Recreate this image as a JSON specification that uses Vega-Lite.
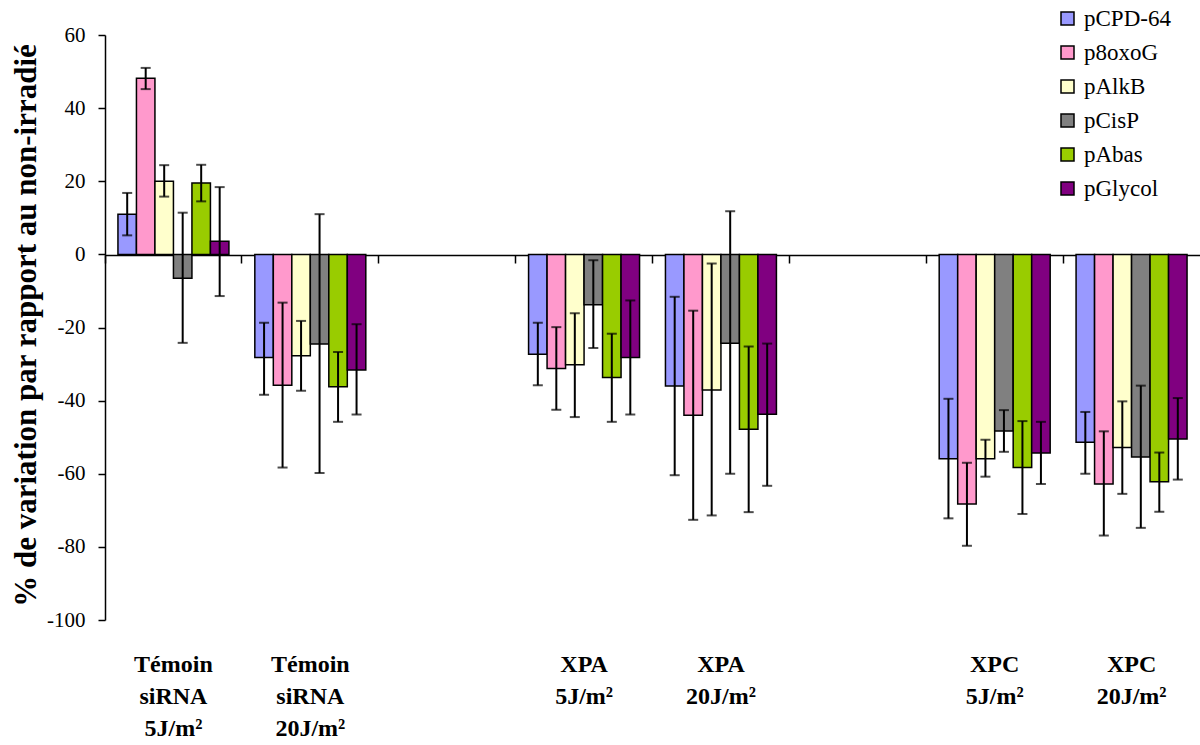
{
  "$schema": "https://vega.github.io/schema/vega-lite/v6.json",
  "width": 1095,
  "height": 585,
  "autosize": {"type": "none"},
  "padding": {"left": 105, "top": 35, "right": 0, "bottom": 125},
  "background": "white",
  "config": {"view": {"stroke": null}, "font": "Liberation Serif"},
  "data": {"values": [
    {"group": "Témoin|siRNA|5J/m²", "series": "pCPD-64", "value": 11.0, "lo": 5.2, "hi": 16.8},
    {"group": "Témoin|siRNA|5J/m²", "series": "p8oxoG", "value": 48.2, "lo": 45.2, "hi": 51.0},
    {"group": "Témoin|siRNA|5J/m²", "series": "pAlkB", "value": 20.0, "lo": 15.8, "hi": 24.4},
    {"group": "Témoin|siRNA|5J/m²", "series": "pCisP", "value": -6.5, "lo": -24.2, "hi": 11.4},
    {"group": "Témoin|siRNA|5J/m²", "series": "pAbas", "value": 19.5, "lo": 14.5, "hi": 24.5},
    {"group": "Témoin|siRNA|5J/m²", "series": "pGlycol", "value": 3.6, "lo": -11.4, "hi": 18.4},
    {"group": "Témoin|siRNA|20J/m²", "series": "pCPD-64", "value": -28.2, "lo": -38.4, "hi": -18.7},
    {"group": "Témoin|siRNA|20J/m²", "series": "p8oxoG", "value": -35.8, "lo": -58.3, "hi": -13.2},
    {"group": "Témoin|siRNA|20J/m²", "series": "pAlkB", "value": -27.7, "lo": -37.3, "hi": -18.2},
    {"group": "Témoin|siRNA|20J/m²", "series": "pCisP", "value": -24.5, "lo": -59.8, "hi": 11.0},
    {"group": "Témoin|siRNA|20J/m²", "series": "pAbas", "value": -36.2, "lo": -45.8, "hi": -26.7},
    {"group": "Témoin|siRNA|20J/m²", "series": "pGlycol", "value": -31.6, "lo": -43.8, "hi": -19.1},
    {"group": "XPA|5J/m²", "series": "pCPD-64", "value": -27.3, "lo": -35.8, "hi": -18.7},
    {"group": "XPA|5J/m²", "series": "p8oxoG", "value": -31.2, "lo": -42.5, "hi": -19.9},
    {"group": "XPA|5J/m²", "series": "pAlkB", "value": -30.2, "lo": -44.5, "hi": -16.1},
    {"group": "XPA|5J/m²", "series": "pCisP", "value": -13.8, "lo": -25.6, "hi": -1.6},
    {"group": "XPA|5J/m²", "series": "pAbas", "value": -33.7, "lo": -45.8, "hi": -21.7},
    {"group": "XPA|5J/m²", "series": "pGlycol", "value": -28.2, "lo": -43.8, "hi": -12.6},
    {"group": "XPA|20J/m²", "series": "pCPD-64", "value": -36.0, "lo": -60.4, "hi": -11.6},
    {"group": "XPA|20J/m²", "series": "p8oxoG", "value": -44.0, "lo": -72.6, "hi": -15.4},
    {"group": "XPA|20J/m²", "series": "pAlkB", "value": -37.1, "lo": -71.4, "hi": -2.5},
    {"group": "XPA|20J/m²", "series": "pCisP", "value": -24.3, "lo": -60.0, "hi": 11.8},
    {"group": "XPA|20J/m²", "series": "pAbas", "value": -47.8, "lo": -70.5, "hi": -25.2},
    {"group": "XPA|20J/m²", "series": "pGlycol", "value": -43.7, "lo": -63.3, "hi": -24.4},
    {"group": "XPC|5J/m²", "series": "pCPD-64", "value": -55.9, "lo": -72.2, "hi": -39.5},
    {"group": "XPC|5J/m²", "series": "p8oxoG", "value": -68.3, "lo": -79.7, "hi": -57.0},
    {"group": "XPC|5J/m²", "series": "pAlkB", "value": -55.9, "lo": -60.8, "hi": -50.7},
    {"group": "XPC|5J/m²", "series": "pCisP", "value": -48.3, "lo": -54.0, "hi": -42.6},
    {"group": "XPC|5J/m²", "series": "pAbas", "value": -58.3, "lo": -71.0, "hi": -45.6},
    {"group": "XPC|5J/m²", "series": "pGlycol", "value": -54.3, "lo": -62.8, "hi": -45.8},
    {"group": "XPC|20J/m²", "series": "pCPD-64", "value": -51.4, "lo": -60.0, "hi": -43.1},
    {"group": "XPC|20J/m²", "series": "p8oxoG", "value": -62.8, "lo": -76.9, "hi": -48.4},
    {"group": "XPC|20J/m²", "series": "pAlkB", "value": -52.8, "lo": -65.5, "hi": -40.2},
    {"group": "XPC|20J/m²", "series": "pCisP", "value": -55.4, "lo": -74.8, "hi": -35.9},
    {"group": "XPC|20J/m²", "series": "pAbas", "value": -62.2, "lo": -70.4, "hi": -54.2},
    {"group": "XPC|20J/m²", "series": "pGlycol", "value": -50.5, "lo": -61.6, "hi": -39.3}
  ]},
  "resolve": {"axis": {"x": "independent"}},
  "layer": [
    {
      "mark": {"type": "bar", "stroke": "black", "strokeWidth": 1.5},
      "encoding": {
        "x": {
          "field": "group", "type": "nominal", "sort": null,
          "scale": {"domain": ["Témoin|siRNA|5J/m²", "Témoin|siRNA|20J/m²", " ", "XPA|5J/m²", "XPA|20J/m²", "  ", "XPC|5J/m²", "XPC|20J/m²"], "paddingInner": 0, "paddingOuter": 0},
          "axis": {
            "orient": "bottom", "title": null, "domain": false, "ticks": false,
            "labelExpr": "split(datum.value, '|')",
            "labelAngle": 0, "labelFont": "Liberation Serif", "labelFontWeight": "bold",
            "labelFontSize": 24, "labelLineHeight": 32, "labelPadding": 32, "labelColor": "black",
            "labelBaseline": "top"
          }
        },
        "xOffset": {
          "field": "series", "type": "nominal",
          "scale": {"domain": ["pCPD-64", "p8oxoG", "pAlkB", "pCisP", "pAbas", "pGlycol"], "paddingInner": 0, "paddingOuter": 0.7}
        },
        "y": {
          "field": "value", "type": "quantitative",
          "scale": {"domain": [-100, 60], "nice": false, "zero": false},
          "axis": {
            "title": "% de variation par rapport au non-irradié",
            "titleFont": "Liberation Serif", "titleFontWeight": "bold", "titleFontSize": 31,
            "titleColor": "black", "titleX": -70, "titleY": 290, "titleBaseline": "alphabetic", "titleAngle": -90,
            "values": [-100, -80, -60, -40, -20, 0, 20, 40, 60],
            "labelExpr": "'' + datum.value",
            "grid": false, "domainColor": "black", "domainWidth": 1.5, "tickColor": "black", "tickSize": 7, "tickWidth": 1.5,
            "labelFont": "Liberation Serif", "labelFontSize": 21, "labelPadding": 13, "labelColor": "black"
          }
        },
        "color": {
          "field": "series", "type": "nominal",
          "scale": {"domain": ["pCPD-64", "p8oxoG", "pAlkB", "pCisP", "pAbas", "pGlycol"], "range": ["#9999FF", "#FF99CC", "#FFFFCC", "#808080", "#99CC00", "#800080"]},
          "legend": {
            "orient": "none", "legendX": 951, "legendY": -28, "title": null, "padding": 0,
            "symbolType": "square", "symbolSize": 169, "symbolStrokeColor": "black", "symbolStrokeWidth": 1.5, "symbolOpacity": 1,
            "labelFont": "Liberation Serif", "labelFontSize": 23, "labelColor": "black", "labelOffset": 5, "rowPadding": 10
          }
        }
      }
    },
    {
      "mark": {"type": "rule", "color": "black", "strokeWidth": 2},
      "encoding": {
        "x": {
          "field": "group", "type": "nominal", "sort": null,
          "axis": {
            "orient": "bottom", "title": null, "labels": false, "offset": -365,
            "bandPosition": 0, "domain": true, "domainColor": "black", "domainWidth": 1.5,
            "ticks": true, "tickColor": "black", "tickSize": 8, "tickWidth": 1.5, "grid": false
          }
        },
        "xOffset": {"field": "series", "type": "nominal"},
        "y": {"field": "lo", "type": "quantitative"},
        "y2": {"field": "hi"}
      }
    },
    {
      "mark": {"type": "tick", "color": "black", "orient": "horizontal", "size": 10, "thickness": 2},
      "encoding": {
        "x": {"field": "group", "type": "nominal", "sort": null, "axis": null},
        "xOffset": {"field": "series", "type": "nominal"},
        "y": {"field": "lo", "type": "quantitative"}
      }
    },
    {
      "mark": {"type": "tick", "color": "black", "orient": "horizontal", "size": 10, "thickness": 2},
      "encoding": {
        "x": {"field": "group", "type": "nominal", "sort": null, "axis": null},
        "xOffset": {"field": "series", "type": "nominal"},
        "y": {"field": "hi", "type": "quantitative"}
      }
    }
  ]
}
